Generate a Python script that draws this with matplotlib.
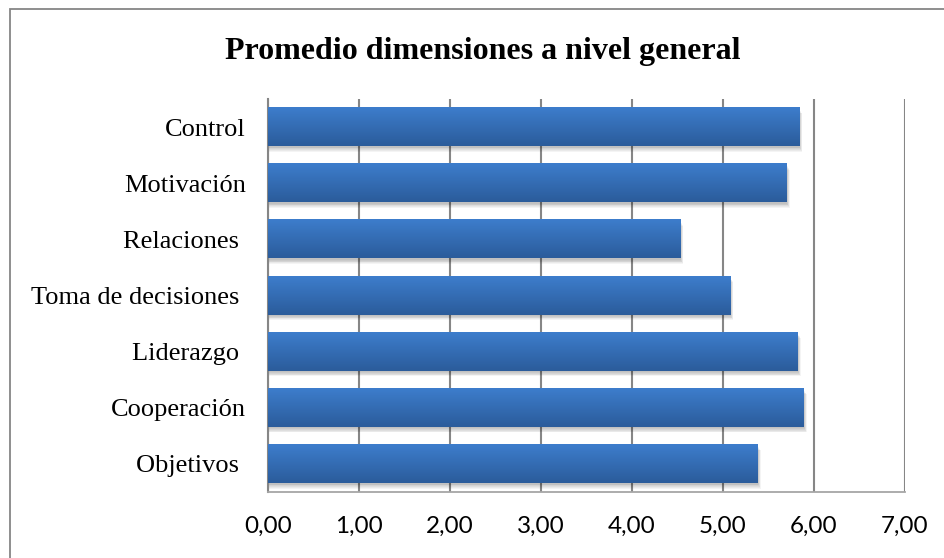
import numpy as np
import matplotlib
matplotlib.use("Agg")
import matplotlib.pyplot as plt
from matplotlib.patches import Rectangle
from matplotlib.colors import LinearSegmentedColormap

# ---- data -------------------------------------------------------------
dimensiones = ["Control", "Motivación", "Relaciones ", "Toma de decisiones ",
               "Liderazgo ", "Cooperación", "Objetivos "]
promedios = [5.84, 5.70, 4.53, 5.08, 5.82, 5.89, 5.38]
x_ticks = [0, 1, 2, 3, 4, 5, 6, 7]
x_labels = ["0,00", "1,00", "2,00", "3,00", "4,00", "5,00", "6,00", "7,00"]

# ---- style ------------------------------------------------------------
GRID = "#868686"
TOP_BLUE = "#3d7dcc"
BOT_BLUE = "#2b5c9b"
BAR_H = 0.68

W, H, DPI = 945, 558, 100
fig = plt.figure(figsize=(W / DPI, H / DPI), dpi=DPI, facecolor="white")
ax = fig.add_axes([268 / W, 1 - 492 / H, (905 - 268) / W, (492 - 99) / H])

# chart frame (left / top edges visible)
fig.patches.append(Rectangle((10 / W, -0.1), 1.2, 1 - 9 / H + 0.1,
                             transform=fig.transFigure, fill=False,
                             edgecolor=GRID, linewidth=1.3))

n = len(dimensiones)
ypos = np.arange(n)[::-1]  # first category on top
ax.set_xlim(0, 7)
ax.set_ylim(-0.5, n - 0.5)

# pixel size in data units
px_x = 7 / (905 - 268)
px_y = n / (492 - 99)

cmap = LinearSegmentedColormap.from_list("barra", [BOT_BLUE, TOP_BLUE])
grad = np.linspace(0, 1, 64).reshape(-1, 1)

for y, v in zip(ypos, promedios):
    # soft drop shadow, mostly below the bar
    for s in range(6):
        ax.add_patch(Rectangle((0, y - BAR_H / 2 - (1.5 + s * 0.8) * px_y),
                               v + (0.5 + s * 0.5) * px_x, BAR_H,
                               facecolor="black", alpha=0.045, linewidth=0,
                               zorder=2))
    # gradient bar
    ax.imshow(grad, cmap=cmap, origin="lower", aspect="auto",
              extent=[0, v, y - BAR_H / 2, y + BAR_H / 2],
              interpolation="bilinear", zorder=3)

ax.set_xlim(0, 7)
ax.set_ylim(-0.5, n - 0.5)

ax.set_axisbelow(True)
ax.grid(axis="x", color=GRID, linewidth=1.5)
ax.grid(axis="y", visible=False)
for side in ("top", "right"):
    ax.spines[side].set_visible(False)
ax.spines["left"].set_color(GRID)
ax.spines["left"].set_linewidth(1.5)
ax.spines["bottom"].set_color("#a6a6a6")
ax.spines["bottom"].set_linewidth(1.3)

ax.set_xticks(x_ticks)
ax.set_xticklabels(x_labels, fontfamily="Lato", fontsize=17.5)
ax.set_yticks(ypos)
ax.set_yticklabels(dimensiones, fontfamily="Liberation Serif", fontsize=19)
ax.tick_params(axis="x", length=0, pad=17.5)
ax.tick_params(axis="y", length=0, pad=16)

fig.text(483 / W, 1 - 52 / H, "Promedio dimensiones a nivel general",
         ha="center", va="center", fontfamily="Liberation Serif",
         fontweight="bold", fontsize=23)

fig.savefig("out.png", dpi=DPI, facecolor="white")
